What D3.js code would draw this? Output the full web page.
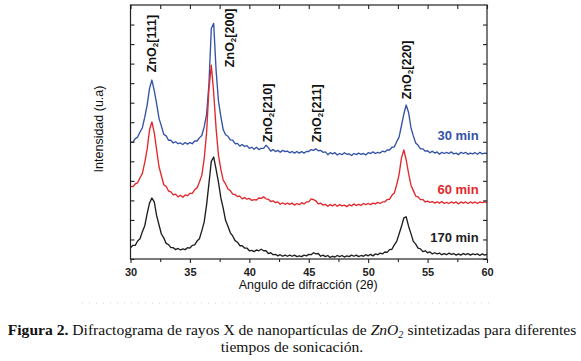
<!DOCTYPE html>
<html>
<head>
<meta charset="utf-8">
<script src="https://cdn.jsdelivr.net/npm/d3@7"></script>
<style>
  body { margin: 0; background: #fff; }
  svg { display: block; }
</style>
</head>
<body>
<div id="chart"></div>
<script>
// barrido 2θ de 30° a 60°, paso 0.2°
const twoTheta = d3.range(151).map(i => +(30 + i * 0.2).toFixed(1));

const int30min = [
  299, 299, 308, 312, 325, 336, 363, 394, 436, 458,
  431, 397, 360, 340, 319, 315, 304, 304, 297, 300,
  295, 297, 293, 298, 294, 298, 295, 302, 302, 310,
  316, 338, 370, 447, 590, 603, 484, 405, 365, 331,
  318, 314, 305, 304, 295, 296, 289, 293, 288, 290,
  283, 286, 281, 286, 280, 283, 283, 291, 285, 276,
  280, 275, 278, 273, 278, 275, 276, 272, 275, 271,
  275, 271, 275, 271, 275, 275, 280, 278, 282, 277,
  278, 273, 274, 267, 272, 269, 272, 266, 270, 267,
  272, 268, 269, 265, 270, 267, 271, 268, 270, 266,
  272, 270, 274, 270, 273, 271, 276, 274, 279, 279,
  286, 287, 300, 312, 341, 371, 394, 375, 336, 315,
  297, 291, 282, 282, 276, 277, 272, 276, 271, 274,
  268, 273, 270, 273, 270, 274, 269, 271, 267, 273,
  270, 273, 268, 271, 269, 272, 268, 273, 269, 271,
  270
];

const int60min = [
  186, 185, 192, 195, 208, 219, 247, 281, 330, 351,
  323, 279, 236, 213, 190, 186, 174, 172, 164, 166,
  159, 163, 158, 164, 162, 168, 168, 177, 182, 197,
  214, 256, 322, 435, 496, 425, 335, 266, 230, 202,
  192, 179, 175, 166, 165, 160, 161, 154, 157, 153,
  155, 150, 152, 151, 156, 155, 159, 154, 153, 147,
  149, 144, 146, 140, 144, 140, 143, 140, 143, 138,
  142, 139, 144, 141, 146, 146, 154, 152, 149, 141,
  143, 138, 140, 135, 139, 136, 140, 135, 139, 136,
  138, 134, 139, 136, 141, 137, 140, 137, 142, 139,
  142, 139, 143, 141, 145, 142, 146, 146, 152, 153,
  163, 169, 190, 216, 258, 279, 254, 219, 189, 175,
  161, 159, 152, 152, 146, 148, 145, 147, 143, 146,
  143, 147, 142, 145, 142, 146, 143, 146, 141, 146,
  143, 146, 142, 146, 143, 146, 142, 146, 144, 146,
  145
];

const int170min = [
  29, 35, 35, 46, 52, 70, 85, 116, 143, 156,
  146, 111, 87, 64, 54, 40, 37, 29, 29, 24,
  27, 23, 26, 24, 29, 28, 35, 36, 46, 52,
  72, 95, 138, 193, 250, 261, 230, 197, 157, 130,
  99, 84, 67, 59, 47, 43, 34, 34, 28, 28,
  21, 22, 19, 23, 21, 25, 21, 21, 14, 16,
  11, 12, 8, 11, 7, 10, 7, 10, 7, 10,
  6, 8, 6, 10, 8, 12, 11, 16, 13, 14,
  7, 10, 6, 9, 4, 7, 5, 9, 6, 9,
  5, 8, 6, 10, 7, 10, 6, 9, 7, 11,
  8, 12, 8, 13, 11, 15, 13, 18, 17, 24,
  25, 36, 45, 64, 83, 105, 108, 84, 65, 45,
  38, 28, 26, 19, 21, 16, 18, 13, 16, 13,
  15, 11, 14, 11, 15, 12, 14, 10, 13, 10,
  14, 11, 14, 10, 13, 11, 13, 9, 13, 10,
  12
];

const seriesNames = ["30 min", "60 min", "170 min"];
const seriesColors = ["#3453a8", "#e2282c", "#1e1e1e"];

const peakNames = ["[111]", "[200]", "[210]", "[211]", "[220]"];

const xTicks = [30, 35, 40, 45, 50, 55, 60];
const xMinorTicks = [32.5, 37.5, 42.5, 47.5, 52.5, 57.5];
const yTicks = [0, 100, 200, 300, 400, 500, 600];
const yMinorTicks = [50, 150, 250, 350, 450, 550];

const width = 581, height = 361;
const margin = { top: 5, right: 94, bottom: 102, left: 130.5 };

const svg = d3.select("#chart").append("svg")
    .attr("width", width)
    .attr("height", height)
    .style("font-family", "'Liberation Sans', Arial, sans-serif");

const x = d3.scaleLinear()
    .domain([30, 60])
    .range([margin.left, width - margin.right]);

const y = d3.scaleLinear()
    .domain([0, 650])
    .range([height - margin.bottom, margin.top]);

// curvas
const series = [int30min, int60min, int170min];
const line = d3.line()
    .x((d, i) => x(twoTheta[i]))
    .y(d => y(d));

series.forEach((s, k) => {
    svg.append("path")
        .datum(s)
        .attr("fill", "none")
        .attr("stroke", seriesColors[k])
        .attr("stroke-width", 1.35)
        .attr("stroke-linejoin", "round")
        .attr("d", line);
});

// marco
svg.append("rect")
    .attr("x", x(30))
    .attr("y", y(650))
    .attr("width", x(60) - x(30))
    .attr("height", y(0) - y(650))
    .attr("fill", "none")
    .attr("stroke", "#222")
    .attr("stroke-width", 1.2);

function tickAxis(axis, transform, values, size) {
    const g = svg.append("g")
        .attr("transform", transform)
        .call(axis.tickValues(values).tickSizeInner(size).tickSizeOuter(0).tickFormat(""));
    g.select(".domain").remove();
    g.selectAll("line").attr("stroke", "#222").attr("stroke-width", 1.1);
    return g;
}

// eje x inferior con etiquetas
const gx = svg.append("g")
    .attr("transform", `translate(0,${y(0)})`)
    .call(d3.axisBottom(x).tickValues(xTicks).tickSizeInner(4).tickSizeOuter(0).tickPadding(5));
gx.select(".domain").remove();
gx.selectAll("line").attr("stroke", "#222").attr("stroke-width", 1.1);
gx.selectAll("text")
    .style("font-size", "11px")
    .style("font-weight", "bold")
    .attr("fill", "#222");

tickAxis(d3.axisBottom(x), `translate(0,${y(0)})`, xMinorTicks, 3);
tickAxis(d3.axisBottom(x), `translate(0,${y(650)})`, xTicks.concat(xMinorTicks), 4);
tickAxis(d3.axisRight(y), `translate(${x(30)},0)`, yTicks.concat(yMinorTicks), 4);
tickAxis(d3.axisLeft(y), `translate(${x(60)},0)`, yTicks.concat(yMinorTicks), 4);

// títulos de ejes
svg.append("text")
    .attr("x", (x(30) + x(60)) / 2 - 0.5)
    .attr("y", 289)
    .attr("text-anchor", "middle")
    .style("font-size", "12.5px")
    .attr("fill", "#111")
    .text("Angulo de difracción (2θ)");

svg.append("text")
    .attr("transform", `translate(103,129) rotate(-90)`)
    .attr("text-anchor", "middle")
    .style("font-size", "12.5px")
    .attr("fill", "#111")
    .text("Intensidad (u.a)");

// etiquetas de picos
const peakLabelPos = [
    { x: 31.8, y: 478 },
    { x: 38.38, y: 491 },
    { x: 41.6, y: 299 },
    { x: 45.7, y: 299 },
    { x: 53.3, y: 409 }
];

peakNames.forEach((name, i) => {
    const p = peakLabelPos[i];
    const t = svg.append("text")
        .attr("transform", `translate(${x(p.x)},${y(p.y)}) rotate(-90)`)
        .attr("dominant-baseline", "central")
        .style("font-size", "12.5px")
        .style("font-weight", "bold")
        .attr("fill", "#111");
    t.append("tspan").text("ZnO");
    t.append("tspan").attr("dy", 3).style("font-size", "8px").text("2");
    t.append("tspan").attr("dy", -3).text(name);
});

// leyenda de tiempos
const timeLabelY = [315, 179, 56];
seriesNames.forEach((name, k) => {
    svg.append("text")
        .attr("x", x(59.3))
        .attr("y", y(timeLabelY[k]))
        .attr("text-anchor", "end")
        .attr("dominant-baseline", "central")
        .style("font-size", "13px")
        .style("font-weight", "bold")
        .attr("fill", seriesColors[k])
        .text(name);
});

// línea punteada tenue bajo el gráfico
svg.append("line")
    .attr("x1", 82).attr("x2", 492)
    .attr("y1", 303).attr("y2", 303)
    .attr("stroke", "#d4d4d4")
    .attr("stroke-dasharray", "1,6");

// pie de figura
const cap1 = svg.append("text")
    .attr("x", 292)
    .attr("y", 335)
    .attr("text-anchor", "middle")
    .style("font-family", "'Liberation Serif', 'Times New Roman', serif")
    .style("font-size", "15px")
    .attr("fill", "#111");
cap1.append("tspan").style("font-weight", "bold").text("Figura 2.");
cap1.append("tspan").text(" Difractograma de rayos X de nanopartículas de ");
cap1.append("tspan").style("font-style", "italic").text("ZnO");
cap1.append("tspan").style("font-style", "italic").style("font-size", "10px").attr("dy", 3).text("2");
cap1.append("tspan").attr("dy", -3).text(" sintetizadas para diferentes");

const len = cap1.node().getComputedTextLength();
const fs = 15 * 569 / len;
cap1.style("font-size", fs + "px");
cap1.selectAll("tspan").filter(function() { return this.style.fontSize === "10px"; })
    .style("font-size", (fs * 0.66) + "px");

svg.append("text")
    .attr("x", 292)
    .attr("y", 352)
    .attr("text-anchor", "middle")
    .style("font-family", "'Liberation Serif', 'Times New Roman', serif")
    .style("font-size", fs + "px")
    .attr("fill", "#111")
    .text("tiempos de sonicación.");
</script>
</body>
</html>
